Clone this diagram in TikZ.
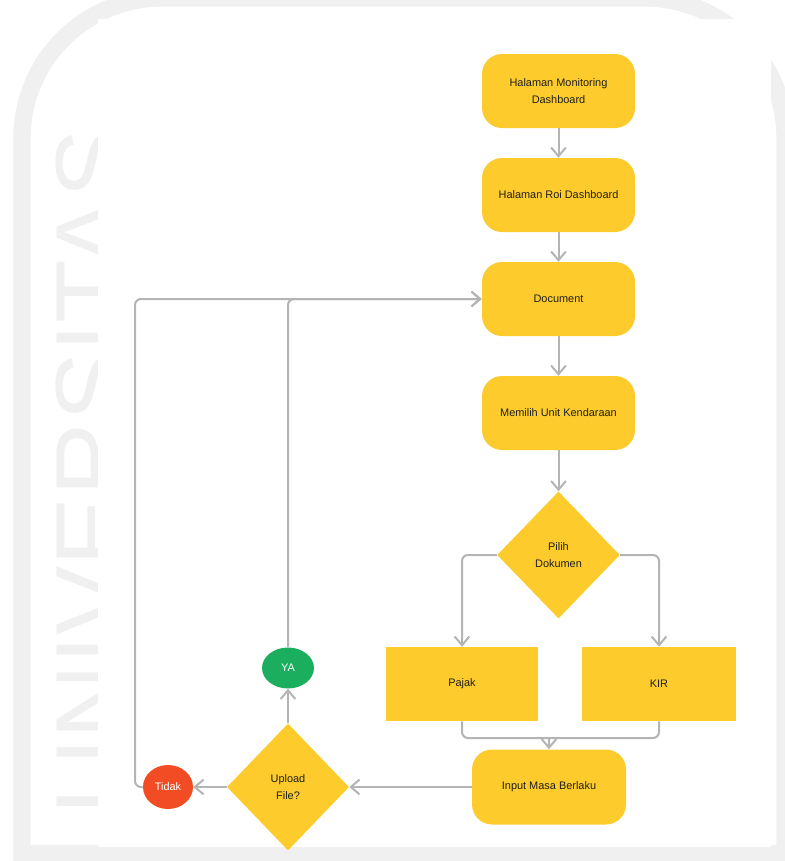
\documentclass[tikz,border=0pt]{standalone}
\usepackage{fontspec}
\setmainfont{Liberation Sans}
\usetikzlibrary{shapes.geometric,arrows.meta}

\definecolor{boxyellow}{HTML}{FDCC2C}
\definecolor{yagreen}{HTML}{1BAE5E}
\definecolor{tidakred}{HTML}{F24C24}
\definecolor{linegrey}{HTML}{B4B4B4}
\definecolor{inkdark}{HTML}{1E1E1E}
\definecolor{wmgrey}{HTML}{F0F0F0}

\tikzset{
  lbl/.style={font=\fontsize{8.2}{12.8}\selectfont, text=inkdark, align=center},
  roundbox/.style={lbl, fill=boxyellow, rounded corners=15pt, inner sep=0pt,
                   minimum width=114.75pt, minimum height=55.5pt},
  squarebox/.style={lbl, fill=boxyellow, inner sep=0pt,
                    minimum width=114pt, minimum height=55.5pt},
  decision/.style={lbl, diamond, fill=boxyellow, inner sep=0pt,
                   minimum width=92pt, minimum height=95.25pt},
  terminal/.style={lbl, ellipse, text=white, inner sep=0pt},
  conn/.style={draw=linegrey, line width=1.5pt, rounded corners=4.5pt,
               -{Straight Barb[length=6.5pt,width=11pt,line width=1.5pt]}},
  joint/.style={draw=linegrey, line width=1.5pt, rounded corners=4.5pt},
  wm/.style={draw=wmgrey, line width=13pt}
}

\begin{document}
\begin{tikzpicture}[x=0.75pt, y=-0.75pt]
  \useasboundingbox (0,0) rectangle (785,861);

  % faint university watermark behind the page area
  \draw[wm, rounded corners=105pt] (22,861) -- (22,-2) -- (785,-2) -- (785,861);
  \draw[wm] (14,854) -- (785,854);
  \node[rotate=90, anchor=base west, inner sep=0pt, text=wmgrey,
        font=\fontsize{78}{78}\selectfont] (wmtext) at (128,815) {UNIVERSITAS};
  \fill[white] (98,19) rectangle (771,847);

  % process steps
  \node[roundbox] (mon)   at (558.5,91)  {Halaman Monitoring\\Dashboard};
  \node[roundbox] (roi)   at (558.5,195) {Halaman Roi Dashboard};
  \node[roundbox] (doc)   at (558.5,299) {Document};
  \node[roundbox] (unit)  at (558.5,413) {Memilih Unit Kendaraan};
  \node[decision] (pilih) at (558.5,555) {Pilih\\Dokumen};
  \node[squarebox] (pajak) at (462,684)  {Pajak};
  \node[squarebox, minimum width=115.5pt] (kir) at (659,684) {KIR};
  \node[roundbox, minimum width=115.5pt, minimum height=56.25pt] (input) at (549,787) {Input Masa Berlaku};
  \node[decision, minimum width=91.5pt] (upload) at (288,787) {Upload\\File?};
  \node[terminal, fill=yagreen, minimum width=39pt, minimum height=30.75pt] (ya) at (288,668) {YA};
  \node[terminal, fill=tidakred, minimum width=37.5pt, minimum height=33pt] (tidak) at (168,787) {Tidak};

  \coordinate (merge) at (549,738);
  \coordinate (tidakleft) at (135,787);

  % main flow
  \draw[conn] (mon) -- (roi);
  \draw[conn] (roi) -- (doc);
  \draw[conn] (doc) -- (unit);
  \draw[conn] (unit) -- (pilih);
  \draw[conn] (pilih.west) -| (pajak.north);
  \draw[conn] (pilih.east) -| (kir.north);
  \draw[joint] (pajak.south) |- (merge);
  \draw[joint] (kir.south) |- (merge);
  \draw[conn] (merge) -- (input.north);
  \draw[conn] (input.west) -- (upload.east);
  \draw[conn] (upload.west) -- (tidak.east);
  \draw[conn] (upload.north) -- (ya.south);

  % return loops to the document page
  \draw[conn] (ya.north) |- (doc.west);
  \draw[conn] (tidak.west) -- (tidakleft) |- (doc.west);
\end{tikzpicture}
\end{document}
